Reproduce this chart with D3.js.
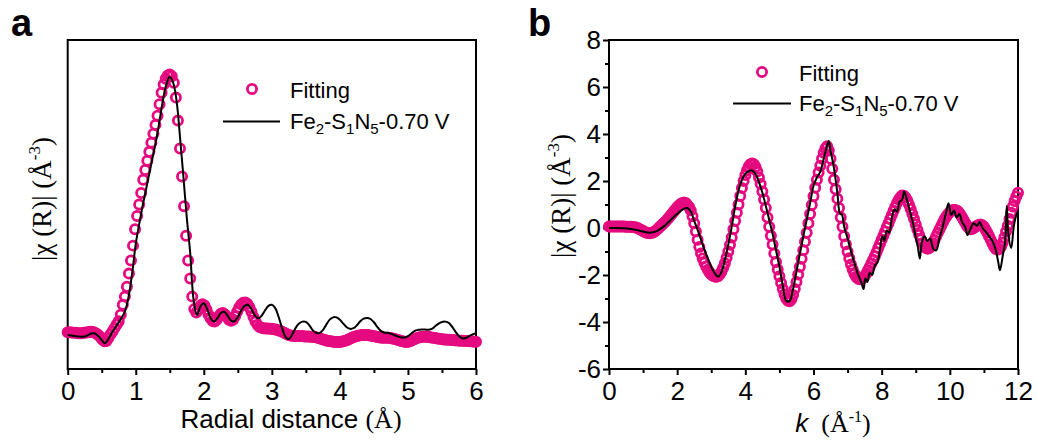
<!DOCTYPE html>
<html><head><meta charset="utf-8">
<script src="https://cdn.jsdelivr.net/npm/d3@7"></script>
<style>body{margin:0;background:#fff}</style>
</head><body>
<svg id="c" width="1037" height="441"></svg>
<script>
// ---------- DATA ----------
// Panel a: FT magnitude, fitting circles sampled every 0.03 Å from 0 to 6
const fitRStep = 0.03;
const fitRValues = [
  1.12,1.12,1.11,1.10,1.10,1.09,1.09,1.09,1.10,1.11,
  1.12,1.13,1.13,1.11,1.08,1.03,0.97,0.90,0.84,0.85,
  0.95,1.06,1.15,1.25,1.35,1.45,1.65,1.95,2.20,2.50,
  2.90,3.30,3.75,4.25,4.65,5.00,5.35,5.75,6.05,6.33,
  6.60,6.88,7.15,7.42,7.70,8.05,8.40,8.65,8.82,8.92,
  8.95,8.90,8.70,8.25,7.55,6.70,5.85,4.95,4.05,3.30,
  2.75,2.20,1.82,1.72,1.80,1.92,1.97,1.93,1.80,1.65,
  1.54,1.46,1.44,1.50,1.60,1.68,1.70,1.66,1.58,1.50,
  1.47,1.50,1.60,1.74,1.87,1.96,2.01,2.02,1.98,1.88,
  1.74,1.58,1.44,1.34,1.28,1.25,1.24,1.23,1.23,1.22,
  1.22,1.21,1.20,1.18,1.16,1.13,1.10,1.07,1.04,1.02,
  1.01,1.00,1.00,1.00,1.00,1.00,0.99,0.99,0.99,0.98,
  0.98,0.97,0.96,0.94,0.92,0.90,0.88,0.86,0.85,0.84,
  0.83,0.82,0.82,0.82,0.83,0.84,0.86,0.88,0.91,0.94,
  0.97,0.99,1.01,1.02,1.03,1.03,1.03,1.03,1.02,1.01,
  1.00,0.98,0.97,0.96,0.95,0.95,0.95,0.95,0.94,0.93,
  0.92,0.90,0.88,0.86,0.84,0.83,0.82,0.83,0.85,0.88,
  0.91,0.94,0.96,0.97,0.98,0.98,0.98,0.97,0.96,0.95,
  0.94,0.93,0.92,0.91,0.90,0.90,0.89,0.89,0.88,0.88,
  0.87,0.87,0.86,0.86,0.86,0.85,0.85,0.84,0.84,0.83,
  0.83
];
// Panel a: measured data line, sampled every 0.05 Å
const dataRStep = 0.05;
const dataRValues = [
  1.03,1.02,1.00,0.99,0.98,0.99,1.03,1.08,1.08,1.00,
  0.88,0.78,0.92,1.10,1.26,1.42,1.58,1.80,2.25,2.95,
  3.80,4.40,4.95,5.45,5.95,6.45,6.95,7.55,8.18,8.65,
  8.88,8.70,8.15,7.06,5.85,4.60,3.53,2.10,1.64,1.90,
  2.00,1.82,1.55,1.44,1.55,1.70,1.74,1.62,1.47,1.45,
  1.58,1.78,1.92,1.95,1.82,1.63,1.54,1.62,1.78,1.92,
  1.95,1.85,1.58,1.25,0.98,0.91,1.05,1.25,1.38,1.44,
  1.43,1.33,1.18,1.10,1.09,1.18,1.35,1.50,1.57,1.57,
  1.50,1.38,1.27,1.22,1.24,1.33,1.45,1.53,1.55,1.52,
  1.42,1.28,1.16,1.11,1.10,1.07,1.03,0.99,0.96,0.96,
  1.00,1.08,1.16,1.19,1.20,1.20,1.19,1.22,1.30,1.38,
  1.43,1.44,1.40,1.28,1.13,1.00,0.93,0.94,1.00,1.05,
  1.09
];
// Panel b: k-space fitting circles every 0.05 Å^-1 from 0 to 12 (one row per unit of k)
const fitKStep = 0.05;
const fitKValues = [
  0.06,0.06,0.06,0.06,0.06,0.06,0.06,0.06,0.06,0.06,0.05,0.05,0.05,0.05,0.04,0.03,0.02,-0.01,-0.05,-0.09,
  -0.13,-0.17,-0.20,-0.21,-0.22,-0.21,-0.18,-0.14,-0.08,-0.01,0.06,0.13,0.20,0.27,0.35,0.43,0.52,0.61,0.70,0.79,
  0.88,0.96,1.02,1.06,1.08,1.06,0.98,0.89,0.75,0.50,0.20,-0.15,-0.50,-0.81,-1.08,-1.30,-1.48,-1.64,-1.78,-1.89,
  -1.98,-2.03,-2.06,-2.07,-2.05,-1.97,-1.85,-1.69,-1.50,-1.27,-1.00,-0.71,-0.40,-0.05,0.30,0.65,1.00,1.36,1.70,2.00,
  2.25,2.46,2.62,2.71,2.75,2.71,2.60,2.40,2.15,1.87,1.55,1.21,0.85,0.45,0.05,-0.33,-0.70,-1.08,-1.45,-1.77,
  -2.05,-2.34,-2.60,-2.82,-3.00,-3.10,-3.12,-3.03,-2.85,-2.60,-2.30,-1.98,-1.65,-1.31,-0.95,-0.58,-0.20,0.20,0.60,0.98,
  1.35,1.71,2.05,2.36,2.65,2.95,3.20,3.38,3.48,3.30,2.95,2.52,2.05,1.65,1.25,0.85,0.45,0.05,-0.35,-0.69,
  -1.00,-1.29,-1.55,-1.77,-1.95,-2.07,-2.15,-2.18,-2.18,-2.13,-2.05,-1.94,-1.80,-1.66,-1.50,-1.35,-1.20,-1.03,-0.85,-0.68,
  -0.50,-0.33,-0.15,0.03,0.20,0.38,0.55,0.73,0.90,1.06,1.20,1.31,1.38,1.37,1.30,1.17,1.00,0.81,0.60,0.38,
  0.15,-0.08,-0.30,-0.49,-0.65,-0.77,-0.85,-0.88,-0.85,-0.77,-0.65,-0.51,-0.35,-0.20,-0.05,0.10,0.25,0.38,0.50,0.60,
  0.68,0.74,0.77,0.77,0.75,0.69,0.60,0.48,0.35,0.22,0.10,0.01,-0.05,-0.04,0.00,0.05,0.10,0.13,0.15,0.12,
  0.05,-0.07,-0.20,-0.35,-0.50,-0.66,-0.80,-0.89,-0.92,-0.89,-0.80,-0.63,-0.40,-0.15,0.10,0.38,0.65,0.91,1.15,1.34,
  1.50
];
// Panel b: measured data line (k, chi)
const dataK = [
  0.0,0.2,0.4,0.6,0.8,1.0,1.2,1.4,1.6,1.8,2.0,2.1,2.2,2.3,2.4,2.5,2.6,2.7,2.8,2.9,
  3.0,3.1,3.2,3.3,3.4,3.5,3.6,3.7,3.8,3.9,4.0,4.1,4.2,4.3,4.4,4.5,4.6,4.7,4.8,4.9,
  5.0,5.1,5.2,5.3,5.4,5.5,5.6,5.7,5.8,5.9,6.0,6.1,6.2,6.3,6.4,6.45,6.5,6.6,6.7,6.78,
  6.83,6.9,7.0,7.1,7.2,7.3,7.4,7.47,7.52,7.58,7.65,7.72,7.80,7.88,7.95,8.02,8.08,8.15,8.22,8.30,
  8.38,8.45,8.52,8.60,8.66,8.75,8.85,8.92,9.00,9.06,9.12,9.18,9.26,9.34,9.42,9.52,9.60,9.70,9.80,9.88,
  9.96,10.04,10.12,10.20,10.28,10.36,10.45,10.52,10.60,10.70,10.80,10.88,10.96,11.05,11.15,11.25,11.35,11.42,11.47,11.55,
  11.62,11.67,11.72,11.80,11.88,11.95,12.00
];
const dataChi = [
  0.00,0.00,-0.01,-0.03,-0.08,-0.15,-0.20,-0.13,0.06,0.33,0.60,0.72,0.82,0.85,0.70,0.30,-0.08,-0.50,-0.92,-1.30,
  -1.65,-1.92,-2.07,-1.88,-1.35,-0.70,0.05,0.90,1.60,2.05,2.30,2.42,2.45,2.30,1.95,1.50,0.95,0.35,-0.25,-0.95,
  -1.65,-2.45,-3.10,-3.10,-2.60,-1.85,-1.10,-0.37,0.35,1.05,1.80,2.15,2.40,2.95,3.50,3.70,3.30,2.55,1.50,0.60,
  0.58,0.05,-0.45,-1.00,-1.50,-1.95,-2.30,-2.60,-2.15,-2.30,-1.90,-2.00,-1.60,-1.45,-0.90,-0.35,-0.55,-0.10,-0.20,0.45,
  0.80,0.70,1.10,1.20,1.55,1.15,0.60,0.20,-0.40,-0.80,-1.30,-0.60,-0.35,-0.55,-0.45,-0.90,-0.95,-0.40,0.10,0.60,
  1.05,0.55,0.75,0.45,0.60,0.25,0.05,-0.30,-0.05,0.20,0.10,0.25,0.00,-0.15,-0.35,-0.55,-0.95,-1.45,-1.80,-1.20,
  -0.60,0.95,-0.30,-0.85,0.10,0.55,0.70
];
const xTicksA = [0,1,2,3,4,5,6];
const xMinorA = [0.5,1.5,2.5,3.5,4.5,5.5];
const xTicksB = [0,2,4,6,8,10,12];
const xMinorB = [1,3,5,7,9,11];
const yTicksB = [-6,-4,-2,0,2,4,6,8];
const yMinorB = [-5,-3,-1,1,3,5,7];
const legendLabels = ["Fitting", "Fe2-S1N5-0.70 V"];

// ---------- DRAW ----------
const SANS = "'Liberation Sans', Arial, sans-serif";
const SERIF = "'Liberation Serif', 'Times New Roman', serif";
const PINK = "#e50a80";
const svg = d3.select("#c").style("font-family", SANS);

const fitA = fitRValues.map((v, i) => [i * fitRStep, v]);
const datA = dataRValues.map((v, i) => [i * dataRStep, v]);
const fitB = fitKValues.map((v, i) => [i * fitKStep, v]);
const datB = dataK.map((k, i) => [k, dataChi[i]]);

const xA = d3.scaleLinear().domain([0, 6]).range([67.7, 476]);
const yA = d3.scaleLinear().domain([0, 10]).range([369, 40]);
const xB = d3.scaleLinear().domain([0, 12]).range([609, 1018]);
const yB = d3.scaleLinear().domain([-6, 8]).range([369, 40]);

function styleAxis(g) {
  g.select(".domain").remove();
  g.selectAll(".tick line").attr("stroke", "#000").attr("stroke-width", 2);
  g.selectAll(".tick text").attr("fill", "#000").style("font-family", SANS).style("font-size", "26px");
}

function drawPanel(x, y, fit, dat, xt, xm, yt, ym) {
  const g = svg.append("g");
  const gx = g.append("g").attr("transform", `translate(0,${y.range()[0]})`)
    .call(d3.axisBottom(x).tickValues(xt).tickSize(6).tickPadding(7).tickFormat(d => String(d)));
  styleAxis(gx);
  const gxm = g.append("g").attr("transform", `translate(0,${y.range()[0]})`)
    .call(d3.axisBottom(x).tickValues(xm).tickSize(4).tickFormat(""));
  styleAxis(gxm);
  if (yt) {
    const gy = g.append("g").attr("transform", `translate(${x.range()[0]},0)`)
      .call(d3.axisLeft(y).tickValues(yt).tickSize(6).tickPadding(2).tickFormat(d => String(d)));
    styleAxis(gy);
    const gym = g.append("g").attr("transform", `translate(${x.range()[0]},0)`)
      .call(d3.axisLeft(y).tickValues(ym).tickSize(4).tickFormat(""));
    styleAxis(gym);
  }
  g.append("rect")
    .attr("x", x.range()[0]).attr("y", y.range()[1])
    .attr("width", x.range()[1] - x.range()[0]).attr("height", y.range()[0] - y.range()[1])
    .attr("fill", "none").attr("stroke", "#000").attr("stroke-width", 2);
  g.append("g").selectAll("circle").data(fit).join("circle")
    .attr("cx", d => x(d[0])).attr("cy", d => y(d[1])).attr("r", 4.6)
    .attr("fill", "none").attr("stroke", PINK).attr("stroke-width", 2.8);
  g.append("path").datum(dat)
    .attr("d", d3.line().x(d => x(d[0])).y(d => y(d[1])).curve(d3.curveCatmullRom.alpha(0.5)))
    .attr("fill", "none").attr("stroke", "#000").attr("stroke-width", 2);
}

drawPanel(xA, yA, fitA, datA, xTicksA, xMinorA, null, null);
drawPanel(xB, yB, fitB, datB, xTicksB, xMinorB, yTicksB, yMinorB);

function legend(cx, cy, lx1, lx2, ly, tx, ty1, ty2) {
  svg.append("circle").attr("cx", cx).attr("cy", cy).attr("r", 4.6)
    .attr("fill", "none").attr("stroke", PINK).attr("stroke-width", 2.8);
  svg.append("text").attr("x", tx).attr("y", ty1).style("font-size", "22px").text(legendLabels[0]);
  svg.append("line").attr("x1", lx1).attr("x2", lx2).attr("y1", ly).attr("y2", ly)
    .attr("stroke", "#000").attr("stroke-width", 2);
  const t = svg.append("text").attr("x", tx).attr("y", ty2).style("font-size", "22px");
  // "Fe2-S1N5-0.70 V" with subscripts
  const parts = [["Fe", 0], ["2", 1], ["-S", 0], ["1", 1], ["N", 0], ["5", 1], ["-0.70 V", 0]];
  let prev = 0;
  parts.forEach(([s, sub]) => {
    const sp = t.append("tspan").text(s);
    const dy = (sub ? 5 : 0) - prev;
    if (dy) sp.attr("dy", dy);
    if (sub) sp.style("font-size", "15px");
    prev = sub ? 5 : 0;
  });
}
legend(252, 89, 223, 280, 121.5, 290, 98, 129);
legend(762, 72, 733, 791, 103.5, 799, 81, 111);

// panel labels
svg.append("text").attr("x", 11).attr("y", 36).style("font-size", "38px").style("font-weight", "bold").text("a");
svg.append("text").attr("x", 528).attr("y", 36).style("font-size", "38px").style("font-weight", "bold").text("b");

// x titles
const tA = svg.append("text").attr("x", 291).attr("y", 428).attr("text-anchor", "middle").style("font-size", "26px");
tA.append("tspan").text("Radial distance ");
tA.append("tspan").style("font-family", SERIF).text("(Å)");

const tB = svg.append("text").attr("x", 833).attr("y", 432).attr("text-anchor", "middle").style("font-size", "26px");
tB.append("tspan").style("font-style", "italic").text("k");
tB.append("tspan").style("font-family", SERIF).text("\u00a0\u00a0(Å");
tB.append("tspan").style("font-family", SERIF).style("font-size", "16px").attr("dy", -10).text("-1");
tB.append("tspan").style("font-family", SERIF).attr("dy", 10).text(")");

// y titles
function yTitle(x, y) {
  const t = svg.append("text").attr("transform", `translate(${x},${y}) rotate(-90)`)
    .attr("text-anchor", "middle").attr("dy", "0.35em")
    .style("font-family", SERIF).style("font-size", "27px");
  t.append("tspan").text("|χ (R)| (Å");
  t.append("tspan").style("font-size", "17px").attr("dy", -11).text("-3");
  t.append("tspan").attr("dy", 11).text(")");
}
yTitle(42, 199);
yTitle(561, 196);
</script>
</body></html>
